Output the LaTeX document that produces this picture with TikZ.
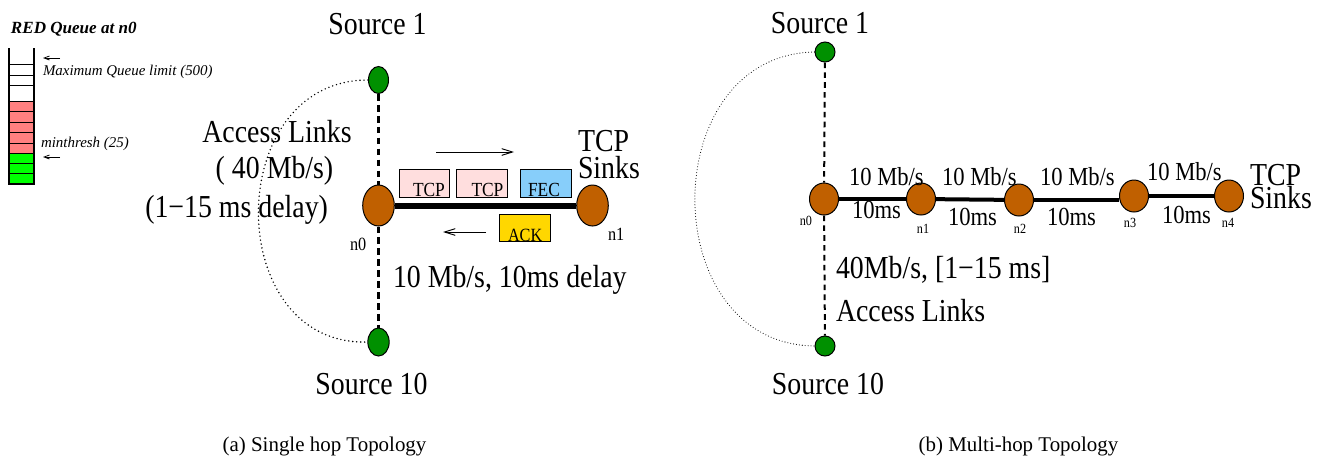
\documentclass[tikz,border=0pt]{standalone}
\usepackage{fontspec}
\setmainfont{Liberation Serif}[FakeStretch=0.87]
\newfontfamily\plainfont{Liberation Serif}
\usetikzlibrary{shapes.geometric,arrows.meta}

\definecolor{nodebrown}{RGB}{192,96,0}
\definecolor{srcgreen}{RGB}{0,144,0}
\definecolor{qred}{RGB}{255,128,128}
\definecolor{qgreen}{RGB}{0,255,0}
\definecolor{pktpink}{RGB}{255,222,222}
\definecolor{pktblue}{RGB}{135,206,250}
\definecolor{pktgold}{RGB}{255,215,0}

\newcommand\fsz[1]{\fontsize{#1}{#1}\selectfont}

\begin{document}
\begin{tikzpicture}[x=0.75pt,y=-0.75pt,
  txt/.style={inner sep=0pt,outer sep=0pt},
  bigtxt/.style={txt,font=\fsz{24}},
  sinktxt/.style={txt,align=left,font=\fontsize{24}{#1}\selectfont},
  linktxt/.style={txt,font=\fsz{19.5}},
  router/.style={ellipse,draw,line width=0.75pt,fill=nodebrown,inner sep=0pt},
  bigrouter/.style={router,minimum width=23.7pt,minimum height=30.75pt},
  smallrouter/.style={router,minimum width=21.75pt,minimum height=24pt},
  src/.style={ellipse,draw,line width=0.75pt,fill=srcgreen,inner sep=0pt},
  accessL/.style={line width=2.25pt,dash pattern=on 5pt off 3.2pt},
  accessR/.style={line width=1.5pt,dash pattern=on 4.2pt off 3.2pt},
  trunkL/.style={line width=4.5pt},
  trunkR/.style={line width=3pt},
  arcL/.style={line width=1.2pt,line cap=round,dash pattern=on 0pt off 3pt},
  arcR/.style={line width=0.8pt,line cap=round,dash pattern=on 0pt off 2.2pt},
  flow/.style={line width=0.7pt,-{Straight Barb[length=8pt,width=5pt]}},
  qarrow/.style={line width=0.6pt,-{Straight Barb[length=4pt,width=3pt]}},
  pkt/.style={draw,line width=0.75pt,minimum width=38pt,minimum height=20.5pt,inner sep=0pt},
  pkttxt/.style={txt,font=\fsz{15}},
  qcell/.style={draw,line width=0.6pt},
  caption/.style={txt,font=\plainfont\fsz{15.7}}
]
\useasboundingbox (0,0) rectangle (1332,458);

% ---------- RED queue at n0 ----------
\node[txt,anchor=base west,font=\plainfont\bfseries\itshape\fsz{12.8}] (qtitle) at (11,33) {RED Queue at n0};
\foreach \ya/\yb in {64/75,75/85,85/101} \draw[qcell] (9,\ya) rectangle (34,\yb);
\foreach \ya/\yb in {101/111,111/122,122/132,132/143,143/153} \draw[qcell,fill=qred] (9,\ya) rectangle (34,\yb);
\foreach \ya/\yb in {153/163,163/173,173/184} \draw[qcell,fill=qgreen] (9,\ya) rectangle (34,\yb);
\draw[line width=1.1pt] (9,48) -- (9,184) -- (34,184) -- (34,48);
\coordinate (qmaxA) at (60,58);
\coordinate (qmaxB) at (43,58);
\draw[qarrow] (qmaxA) -- (qmaxB);
\node[txt,anchor=base west,font=\plainfont\itshape\fsz{11.2}] (qmax) at (43,75) {Maximum Queue limit (500)};
\node[txt,anchor=base west,font=\plainfont\itshape\fsz{11.2}] (qmin) at (41,147) {minthresh (25)};
\coordinate (qminA) at (60,157);
\coordinate (qminB) at (43,157);
\draw[qarrow] (qminA) -- (qminB);

% ---------- (a) single hop ----------
\node[src,minimum width=15pt,minimum height=20.25pt] (s1) at (378.5,80) {};
\node[src,minimum width=16pt,minimum height=21pt] (s10) at (378.5,342) {};
\node[bigrouter] (ln0) at (378.5,205.5) {};
\node[bigrouter] (ln1) at (592.5,205.5) {};

\draw[arcL] (s1.west) .. controls (222,80) and (222,346) .. (s10.west);
\draw[accessL] (s1) -- (ln0);
\draw[accessL] (ln0) -- (s10);
\draw[trunkL] (ln0) -- (ln1);

\node[bigtxt,anchor=base] (src1a) at (377.5,34.5) {Source 1};
\node[bigtxt,anchor=base] (src10a) at (371.5,394) {Source 10};
\node[bigtxt,anchor=base] (accA) at (277,142.7) {Access Links};
\node[bigtxt,anchor=base] (rateA) at (274.5,178) {( 40 Mb/s)};
\node[bigtxt,anchor=base east] (delA) at (328,217) {(1\textminus 15 ms delay)};
% base anchor of a two-line node sits on its last line
\node[sinktxt=20.25pt,anchor=base west] (sinkA) at (578,178) {TCP\\Sinks};
\node[bigtxt,anchor=base west] (bottleA) at (393,287) {10 Mb/s, 10ms delay};
\node[txt,anchor=base west,font=\fsz{14}] (lbn0) at (350,250.5) {n0};
\node[txt,anchor=base west,font=\fsz{14}] (lbn1) at (608,240.5) {n1};

\node[pkt,fill=pktpink] (pk1) at (424.5,183.4) {};
\node[pkt,fill=pktpink] (pk2) at (482,183.4) {};
\node[pkt,fill=pktblue] (pk3) at (546.3,183.4) {};
\node[pkt,fill=pktgold] (pk4) at (524.7,228) {};
\node[pkttxt,anchor=base west] (pk1t) at (413,196.5) {TCP};
\node[pkttxt,anchor=base west] (pk2t) at (471.5,196.5) {TCP};
\node[pkttxt,anchor=base west] (pk3t) at (528,196.5) {FEC};
\node[pkttxt,anchor=base west,font=\fsz{14}] (pk4t) at (508,241.5) {ACK};

\coordinate (fwdA) at (436,152);
\coordinate (fwdB) at (514,152);
\draw[flow] (fwdA) -- (fwdB);
\coordinate (revA) at (486,232);
\coordinate (revB) at (443,232);
\draw[flow] (revA) -- (revB);

% ---------- (b) multi-hop ----------
\node[src,minimum width=15pt,minimum height=15pt] (rs1) at (825,52) {};
\node[src,minimum width=15pt,minimum height=15pt] (rs10) at (825,346) {};
\node[smallrouter] (rn0) at (824,199) {};
\node[smallrouter] (rn1) at (921,199) {};
\node[smallrouter] (rn2) at (1019,200) {};
\node[smallrouter] (rn3) at (1134,196) {};
\node[smallrouter] (rn4) at (1229,196) {};

\draw[arcR] (rs1.west) .. controls (655,55) and (655,344) .. (rs10.west);
\draw[accessR] (rs1) -- (rn0);
\draw[accessR] (rn0) -- (rs10);
\draw[trunkR] (rn0) -- (rn1);
\draw[trunkR] (rn1) -- (rn2);
\draw[trunkR] (rn2.east) -- (rn2.east -| rn3.west);
\draw[trunkR] (rn3) -- (rn4);

\node[bigtxt,anchor=base] (src1b) at (820,33.3) {Source 1};
\node[bigtxt,anchor=base] (src10b) at (828,394.3) {Source 10};
\node[bigtxt,anchor=base west] (rateB) at (836,278) {40Mb/s, [1\textminus 15 ms]};
\node[bigtxt,anchor=base west] (accB) at (836,321.7) {Access Links};
\node[sinktxt=17.25pt,anchor=base west] (sinkB) at (1250,208) {TCP\\Sinks};

\node[linktxt,anchor=base west] (bw1) at (849,185) {10 Mb/s};
\node[linktxt,anchor=base west] (bw2) at (942,185) {10 Mb/s};
\node[linktxt,anchor=base west] (bw3) at (1040,185) {10 Mb/s};
\node[linktxt,anchor=base west] (bw4) at (1147,180) {10 Mb/s};
\node[linktxt,anchor=base west] (dl1) at (852,218.3) {10ms};
\node[linktxt,anchor=base west] (dl2) at (948,225) {10ms};
\node[linktxt,anchor=base west] (dl3) at (1047,225) {10ms};
\node[linktxt,anchor=base west] (dl4) at (1162,223) {10ms};

\node[txt,anchor=base east,font=\fsz{10.5}] (rln0) at (812,225) {n0};
\node[txt,anchor=base,font=\fsz{10.5}] (rln1) at (923,233) {n1};
\node[txt,anchor=base,font=\fsz{10.5}] (rln2) at (1020,233) {n2};
\node[txt,anchor=base,font=\fsz{10.5}] (rln3) at (1130,227) {n3};
\node[txt,anchor=base,font=\fsz{10.5}] (rln4) at (1228,227) {n4};

% ---------- captions ----------
\node[caption,anchor=base] (capA) at (324.5,451.5) {(a) Single hop Topology};
\node[caption,anchor=base] (capB) at (1018.5,451.5) {(b) Multi-hop Topology};
\end{tikzpicture}
\end{document}
